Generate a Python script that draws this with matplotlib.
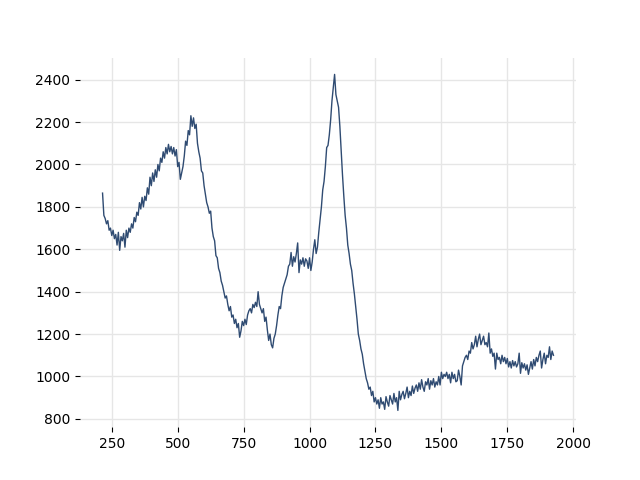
import numpy as np
import matplotlib
matplotlib.use('Agg')
import matplotlib.pyplot as plt

# wavenumber grid, step 5
x = np.arange(215, 1926, 5)

# intensities, 10 per row
y = [
    1865, 1760, 1745, 1720, 1735, 1690, 1700, 1665, 1690, 1650,
    1670, 1620, 1680, 1595, 1660, 1640, 1675, 1610, 1690, 1655,
    1700, 1680, 1720, 1700, 1750, 1730, 1775, 1760, 1820, 1790,
    1845, 1800, 1850, 1830, 1890, 1860, 1940, 1900, 1960, 1920,
    1975, 1940, 2000, 1970, 2030, 2010, 2060, 2030, 2080, 2050,
    2095, 2060, 2085, 2050, 2080, 2040, 2070, 1990, 2010, 1930,
    1960, 1990, 2040, 2110, 2090, 2160, 2140, 2230, 2180, 2220,
    2170, 2190, 2100, 2060, 2030, 1970, 1960, 1900, 1860, 1820,
    1800, 1770, 1780, 1700, 1660, 1640, 1570, 1560, 1510, 1490,
    1450, 1430, 1400, 1370, 1380, 1340, 1310, 1330, 1280, 1290,
    1250, 1270, 1230, 1250, 1185, 1215, 1260, 1240, 1270, 1245,
    1290, 1310, 1320, 1300, 1340, 1325, 1350, 1330, 1400, 1340,
    1320, 1300, 1320, 1260, 1280, 1220, 1170, 1200, 1150, 1135,
    1180, 1200, 1240, 1290, 1330, 1320, 1380, 1420, 1440, 1460,
    1480, 1520, 1530, 1585, 1520, 1565, 1540, 1580, 1630, 1490,
    1550, 1530, 1560, 1520, 1555, 1545, 1510, 1560, 1500, 1540,
    1600, 1645, 1580, 1610, 1680, 1740, 1800, 1880, 1920, 1990,
    2080, 2090, 2140, 2210, 2300, 2360, 2425, 2330, 2300, 2270,
    2180, 2060, 1950, 1850, 1760, 1700, 1620, 1580, 1530, 1500,
    1440, 1390, 1330, 1270, 1200, 1170, 1130, 1105, 1060, 1025,
    990, 970, 940, 950, 910, 930, 880, 900, 870, 890,
    850, 900, 870, 880, 845, 905, 880, 860, 910, 890,
    870, 920, 880, 900, 840, 930, 890, 915, 930, 895,
    920, 950, 900, 930, 910, 955, 920, 945, 960, 930,
    970, 940, 985, 950, 930, 975, 960, 990, 940, 980,
    960, 990, 950, 975, 960, 1000, 960, 1020, 990, 1010,
    1000, 1020, 990, 1010, 970, 1020, 990, 1010, 975, 980,
    1030, 1000, 960, 1050, 1070, 1090, 1100, 1080, 1120, 1110,
    1160, 1130, 1150, 1190, 1140, 1175, 1200, 1150, 1170, 1190,
    1150, 1160, 1140, 1205, 1110, 1130, 1095, 1110, 1035, 1110,
    1080, 1090, 1060, 1100, 1070, 1090, 1060, 1085, 1045, 1070,
    1040, 1075, 1050, 1070, 1045, 1060, 1110, 1015, 1065, 1040,
    1060, 1030, 1055, 1010, 1040, 1070, 1035, 1080, 1050, 1090,
    1070, 1100, 1120, 1040, 1080, 1110, 1060, 1100, 1090, 1140,
    1080, 1120, 1100,
]

fig, ax = plt.subplots(figsize=(6.4, 4.8), dpi=100)
ax.plot(x, y, color='#2f4b72', linewidth=1.0)

ax.grid(True, color='#e6e6e6', linewidth=1)
ax.set_axisbelow(True)
for s in ax.spines.values():
    s.set_visible(False)
ax.set_yticks(range(800, 2401, 200))
ax.set_xticks(range(250, 2001, 250))

fig.savefig('out.png')
